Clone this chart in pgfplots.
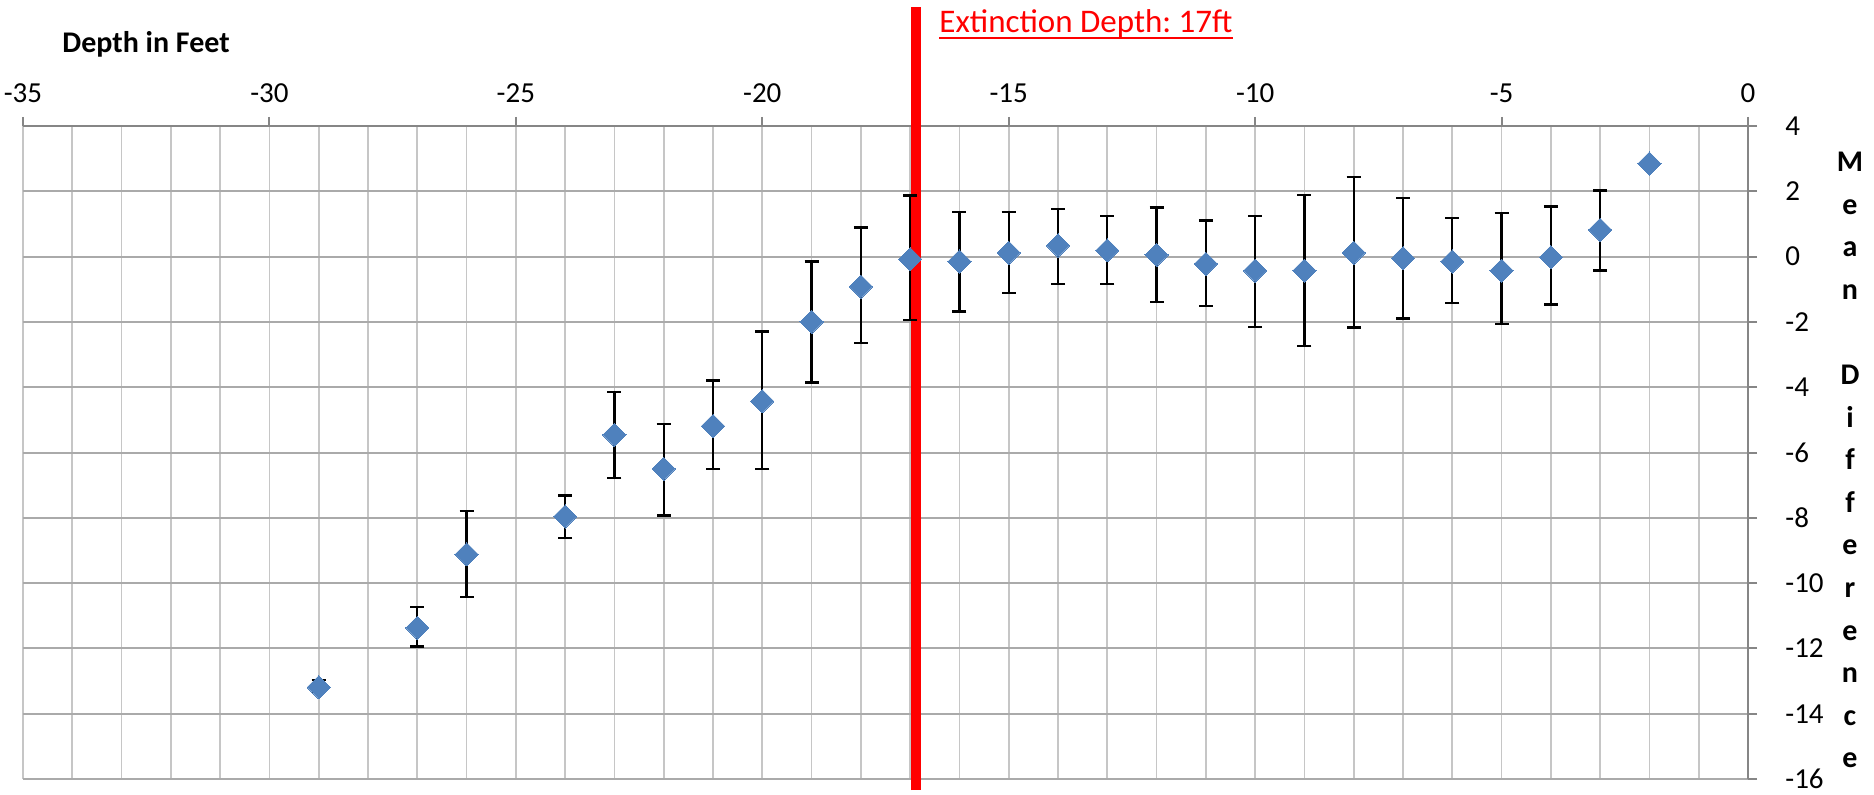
\documentclass[border=0pt]{standalone}
\usepackage{fontspec}
\setmainfont{Carlito}
\usepackage{pgfplots}
\usepackage{pgfplotstable}
\pgfplotsset{compat=1.18}
\definecolor{gridh}{RGB}{170,170,170}
\definecolor{gridv}{RGB}{198,198,198}
\definecolor{axisc}{RGB}{134,134,134}
\definecolor{markblue}{RGB}{79,129,189}

\pgfplotstableread{
x y ep em
-29 -13.19 0.22 0.14
-27 -11.37 0.63 0.57
-26 -9.12 1.33 1.31
-24 -7.96 0.64 0.66
-23 -5.46 1.32 1.33
-22 -6.50 1.38 1.43
-21 -5.19 1.39 1.32
-20 -4.43 2.14 2.08
-19 -2.00 1.85 1.86
-18 -0.92 1.81 1.73
-17 -0.08 1.95 1.87
-16 -0.15 1.52 1.53
-15 0.12 1.25 1.24
-14 0.34 1.11 1.17
-13 0.19 1.05 1.02
-12 0.05 1.46 1.44
-11 -0.22 1.32 1.30
-10 -0.43 1.67 1.73
-9 -0.43 2.31 2.31
-8 0.12 2.32 2.29
-7 -0.05 1.85 1.85
-6 -0.15 1.33 1.27
-5 -0.43 1.76 1.64
-4 -0.02 1.56 1.45
-3 0.82 1.20 1.25
}\datatab

\pgfplotstableread{
x y
-2 2.85
}\lasttab

\begin{document}
\frenchspacing
\begin{tikzpicture}
\begin{axis}[
  scale only axis,
  width=862.5pt, height=326.5pt,
  xmin=-35, xmax=0, ymin=-16, ymax=4,
  axis x line*=top, axis y line*=right,
  axis line style={color=axisc, line width=1pt},
  xtick={-35,-30,...,0},
  minor x tick num=4,
  ytick={-16,-14,...,4},
  xmajorgrids, xminorgrids, ymajorgrids,
  major x grid style={color=gridv, line width=0.9pt},
  minor x grid style={color=gridv, line width=0.9pt},
  major y grid style={color=gridh, line width=1pt},
  tick align=outside,
  major tick length=4.5pt,
  minor tick length=0pt,
  tick style={color=axisc, line width=1pt},
  /pgf/number format/assume math mode=true,
  ticklabel style={font=\fontsize{14.5pt}{17pt}\selectfont, inner sep=0pt},
  xticklabel style={anchor=center, yshift=11.8pt},
  yticklabel style={anchor=west, xshift=14pt},
  clip=false,
]
\draw[color=red, line width=5pt] ([yshift=-5.5pt]axis cs:-16.88,-16) -- ([yshift=59.5pt]axis cs:-16.88,4);
\addplot[draw=none, mark=none,
  error bars/.cd, y dir=both, y explicit,
  error bar style={black, line width=1.2pt},
  error mark options={rotate=90, black, mark size=3.5pt, line width=1.2pt}]
  table[x=x, y=y, y error plus=ep, y error minus=em]{\datatab};
\addplot[only marks, mark=square*, mark size=4.1pt,
  mark options={rotate=45, fill=markblue, draw=markblue, line width=0pt}]
  table[x=x, y=y]{\datatab};
\addplot[only marks, mark=square*, mark size=4.1pt,
  mark options={rotate=45, fill=markblue, draw=markblue, line width=0pt}]
  table[x=x, y=y]{\lasttab};
\end{axis}
\node[anchor=base west, inner sep=0pt, font=\fontsize{15pt}{18pt}\selectfont\bfseries] at (19.5pt,363pt) {Depth in Feet};
\node[anchor=base west, inner sep=0pt, text=red, font=\fontsize{16.5pt}{19pt}\selectfont] (ext) at (458pt,373pt) {Extinction Depth: 17ft};
\draw[red, line width=1pt] ([yshift=-2.6pt]ext.base west) -- ([yshift=-2.6pt]ext.base east);
\foreach \ch [count=\i from 0] in {M,e,a,n,{},D,i,f,f,e,r,e,n,c,e} {
  \node[anchor=base, inner sep=0pt, font=\fontsize{15pt}{18pt}\selectfont\bfseries] at (913.5pt,{303.75pt-\i*21.3pt}) {\ch};
}
\pgfresetboundingbox
\useasboundingbox (-11.5pt,-7.5pt) rectangle (925.5pt,389.5pt);
\end{tikzpicture}
\end{document}
